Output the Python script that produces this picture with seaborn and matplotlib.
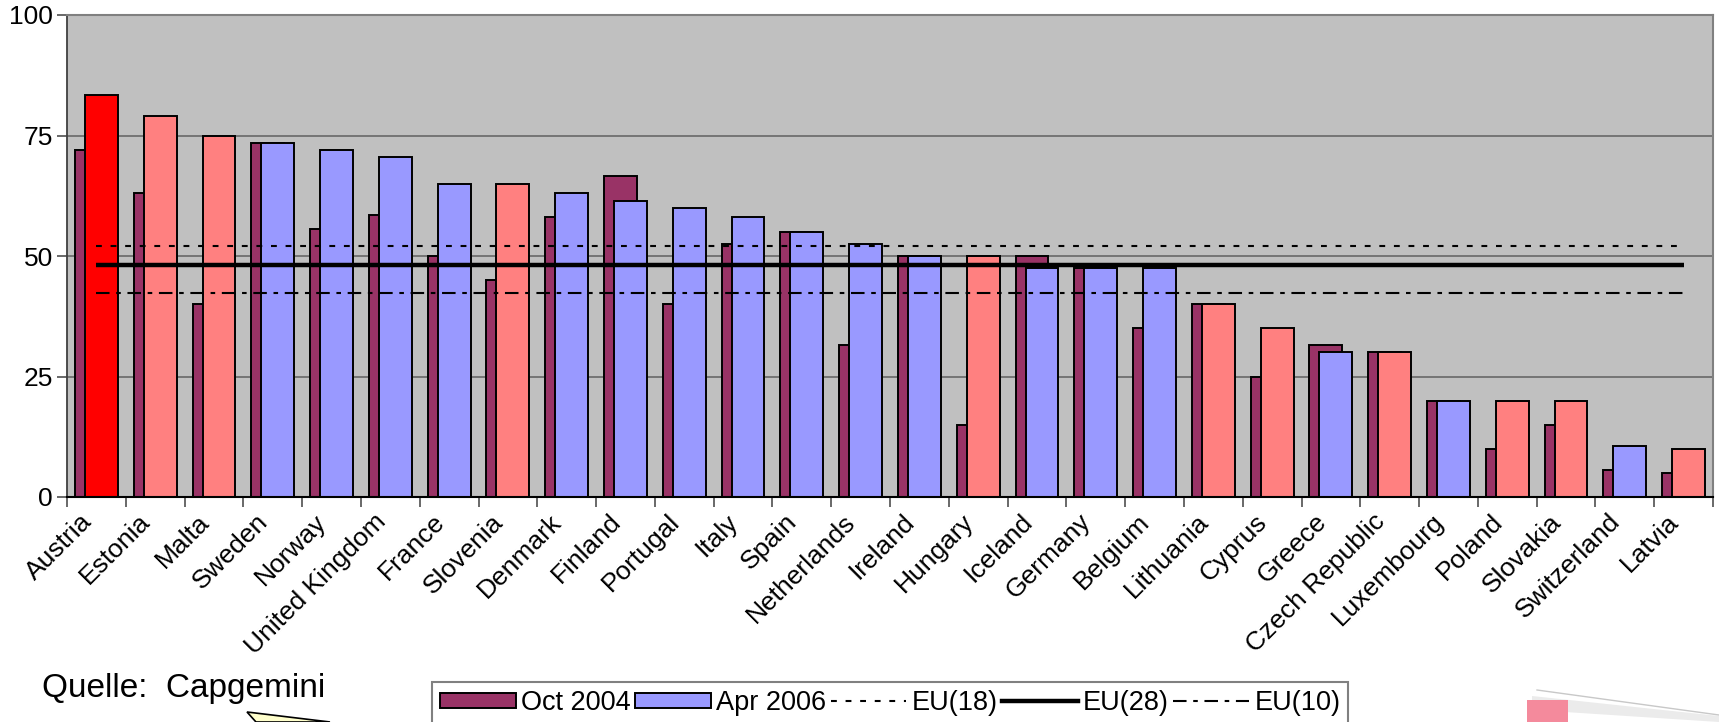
import matplotlib
matplotlib.use("Agg")
import matplotlib.pyplot as plt
import matplotlib.transforms as mtransforms
import seaborn as sns
import pandas as pd
from matplotlib.patches import Patch, Polygon, Rectangle
from matplotlib.lines import Line2D
from matplotlib.ticker import FixedLocator

# ---------------- data ----------------
countries = ["Austria", "Estonia", "Malta", "Sweden", "Norway", "United Kingdom",
             "France", "Slovenia", "Denmark", "Finland", "Portugal", "Italy", "Spain",
             "Netherlands", "Ireland", "Hungary", "Iceland", "Germany", "Belgium",
             "Lithuania", "Cyprus", "Greece", "Czech Republic", "Luxembourg", "Poland",
             "Slovakia", "Switzerland", "Latvia"]
oct2004 = [72, 63, 40, 73.5, 55.5, 58.5, 50, 45, 58, 66.5, 40, 52.5, 55, 31.5, 50, 15,
           50, 47.5, 35, 40, 25, 31.5, 30, 20, 10, 15, 5.5, 5]
apr2006 = [83.5, 79, 75, 73.5, 72, 70.5, 65, 65, 63, 61.5, 60, 58, 55, 52.5, 50, 50,
           47.5, 47.5, 47.5, 40, 35, 30, 30, 20, 20, 20, 10.5, 10]
# country group -> colour of the Apr 2006 bar
groups = ["highlight", "new", "new", "old", "old", "old", "old", "new", "old", "old",
          "old", "old", "old", "old", "old", "new", "old", "old", "old", "new", "new",
          "old", "new", "old", "new", "new", "old", "new"]
ref_names = ["EU(18)", "EU(28)", "EU(10)"]
ref_values = [52.1, 48.1, 42.3]
yticks = [0, 25, 50, 75, 100]

# ---------------- styles ----------------
C_OCT = "#993366"
GROUP_COL = {"highlight": "#FF0000", "new": "#FF8080", "old": "#9999FF"}
BG = "#C0C0C0"
ref_styles = {
    "EU(18)": dict(color="black", lw=1.5, ls=(0, (2.8, 4.2))),
    "EU(28)": dict(color="black", lw=3.2, ls="-"),
    "EU(10)": dict(color="black", lw=1.5, ls=(0, (6.5, 3.2, 2.2, 3.2))),
}

plt.rcParams["font.family"] = ["Liberation Sans", "DejaVu Sans"]

fig = plt.figure(figsize=(17.19, 7.22), dpi=100)
ax = fig.add_axes([67 / 1719, 1 - 497 / 722, (1713 - 67) / 1719, (497 - 15) / 722])
ax.set_facecolor(BG)

df = pd.DataFrame({"country": countries, "oct": oct2004, "apr": apr2006, "group": groups})
BW = 0.56
OFF = 0.085

sns.barplot(data=df, x="country", y="oct", color=C_OCT, width=BW, edgecolor="black",
            linewidth=1.4, saturation=1, ax=ax, zorder=2)
n_oct = len(ax.patches)
for p in ax.patches:
    p.set_x(p.get_x() - OFF)

sns.barplot(data=df, x="country", y="apr", hue="country",
            palette=[GROUP_COL[g] for g in groups], width=BW, edgecolor="black",
            linewidth=1.4, saturation=1, dodge=False, legend=False, ax=ax, zorder=2)
for p in ax.patches[n_oct:]:
    p.set_x(p.get_x() + OFF)

# reference lines spanning first to last category
xs = [0, len(countries) - 1]
for name, val in zip(ref_names, ref_values):
    ax.plot(xs, [val, val], zorder=4, solid_capstyle="butt", dash_capstyle="butt",
            **ref_styles[name])

ax.set_xlim(-0.5, len(countries) - 0.5)
ax.set_ylim(0, 100)
ax.set_yticks(yticks)
ax.set_yticklabels([str(t) for t in yticks], fontsize=19)
ax.yaxis.grid(True, color="#606060", lw=1.1)
ax.set_axisbelow(True)
ax.set_xlabel("")
ax.set_ylabel("")

ax.xaxis.set_minor_locator(FixedLocator([i - 0.5 for i in range(len(countries) + 1)]))
ax.tick_params(axis="x", which="minor", length=7, color="#404040", width=1.1)
ax.tick_params(axis="y", length=7, color="#404040", width=1.1, pad=3)
ax.set_xticks(range(len(countries)))
ax.set_xticklabels(countries, rotation=45, ha="right", va="top",
                   rotation_mode="anchor", fontsize=19)
ax.tick_params(axis="x", which="major", length=0, pad=9)
shift = mtransforms.ScaledTranslation(-17 / 100, 0, fig.dpi_scale_trans)
for lab in ax.get_xticklabels():
    lab.set_transform(lab.get_transform() + shift)

for side in ["top", "right"]:
    ax.spines[side].set_color("#808080")
    ax.spines[side].set_linewidth(1.5)
ax.spines["left"].set_color("#404040")
ax.spines["left"].set_linewidth(1.3)
ax.spines["bottom"].set_color("black")
ax.spines["bottom"].set_linewidth(1.5)

# legend
handles = [
    Patch(facecolor=C_OCT, edgecolor="black", linewidth=1.4),
    Patch(facecolor=GROUP_COL["old"], edgecolor="black", linewidth=1.4),
] + [Line2D([], [], **ref_styles[n]) for n in ref_names]
labels = ["Oct 2004", "Apr 2006"] + ref_names
leg = fig.legend(handles, labels, loc="upper left", bbox_to_anchor=(432 / 1719, 1 - 682 / 722),
                 ncol=5, fontsize=19.5, frameon=True, fancybox=False, framealpha=1,
                 edgecolor="#808080", handlelength=2.8, handleheight=0.5,
                 handletextpad=0.2, columnspacing=0.15, borderpad=0.3,
                 borderaxespad=0)
leg.get_frame().set_linewidth(1.5)

fig.text(42 / 1719, 1 - 697 / 722, "Quelle:  Capgemini", fontsize=24, va="baseline")

# decorative fragments at the bottom edge
fig.patches.append(Polygon([(247 / 1719, 1 - 712 / 722), (330 / 1719, 0), (256 / 1719, 0)],
                           closed=True, transform=fig.transFigure, facecolor="#FFFFCC",
                           edgecolor="black", lw=1.2))
fig.patches.append(Polygon([(1532 / 1719, 1 - 696 / 722), (1719 / 1719, 1 - 716 / 722),
                            (1719 / 1719, 1 - 722 / 722), (1565 / 1719, 1 - 712 / 722),
                            (1532 / 1719, 1 - 700 / 722)],
                           closed=True, transform=fig.transFigure, facecolor="#EBEBEB",
                           edgecolor="none"))
fig.patches.append(Rectangle((1527 / 1719, 0), 41 / 1719, 22 / 722,
                             transform=fig.transFigure, facecolor="#F48A9C", edgecolor="none"))
fig.lines.append(Line2D([1537 / 1719, 1], [1 - 690 / 722, 1 - 715 / 722],
                        transform=fig.transFigure, color="#C8C8C8", lw=1))

fig.savefig("out.png", dpi=100)
